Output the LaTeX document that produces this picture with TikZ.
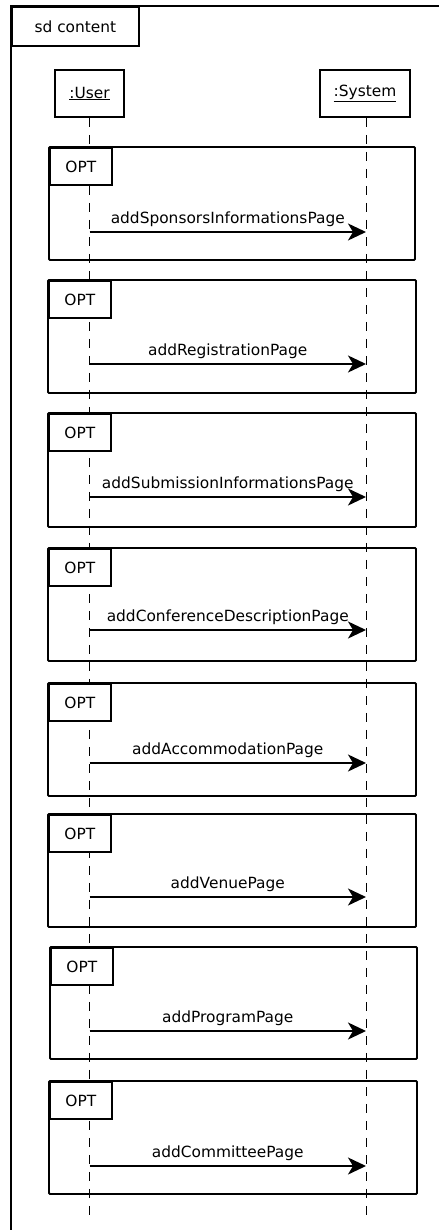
\documentclass[tikz,border=0pt]{standalone}
\usepackage{fontspec}
\setmainfont{DejaVu Sans}
\usetikzlibrary{arrows.meta}
\tikzset{
    head/.style={draw,line width=1.6pt,minimum width=69pt,minimum height=47pt,inner sep=0pt},
    lifeline/.style={dash pattern=on 9pt off 8pt,line width=0.9pt},
    optbox/.style={draw,line width=1.8pt,rounded corners=1pt},
    opttab/.style={draw,fill=white,line width=1.8pt,minimum width=62pt,minimum height=37pt,anchor=north west,inner sep=0pt},
    msg/.style={line width=1.8pt,-{Stealth[length=18pt,width=17pt,inset=5pt]}},
    msglabel/.style={above,inner sep=2pt,yshift=2pt}
}

\begin{document}
\begin{tikzpicture}[x=1pt,y=-1pt,font=\fontsize{15.4}{18}\selectfont]
    \useasboundingbox (0,0) rectangle (439,1230);
    % outer sd frame
    \node[draw,line width=1.8pt,anchor=north west,minimum width=127pt,minimum height=39pt] (sdtab) at (11,6) {sd content};
    \coordinate (sdright) at (439,6);
    \coordinate (sdbottom) at (11,1230);
    \draw[line width=1.8pt] (sdbottom) -- (sdtab.north west) -- (sdright);
    % lifelines
    \node[head] (user) at (89.5,93.5) {\underline{:User}};
    \node[head,minimum width=90pt] (system) at (365,93.5) {\underline{:System}};
    \coordinate (userend) at (89.5,1215);
    \coordinate (systemend) at (366,1215);
    \draw[lifeline] (user.south) -- (userend);
    \draw[lifeline] (system.south -| systemend) -- (systemend);
    % opt fragments
    \foreach \i/\top/\bot/\lft/\rgt/\ay/\txt in {
        1/147/260/49/415/232/addSponsorsInformationsPage,
        2/280/393/48/416/364/addRegistrationPage,
        3/413/527/48/416/497/addSubmissionInformationsPage,
        4/548/661/48/416/630/addConferenceDescriptionPage,
        5/683/796/48/416/763/addAccommodationPage,
        6/814/927/48/416/897/addVenuePage,
        7/947/1059/50/417/1031/addProgramPage,
        8/1081/1194/49/417/1166/addCommitteePage}
    {
        \draw[optbox] (\lft,\top) rectangle (\rgt,\bot);
        \node[opttab] (opt\i) at (\lft,\top) {OPT};
        \coordinate (from\i) at (89.5,\ay);
        \coordinate (to\i) at (366,\ay);
        \draw[msg] (from\i) -- node[msglabel] {\txt} (to\i);
    }
\end{tikzpicture}
\end{document}
